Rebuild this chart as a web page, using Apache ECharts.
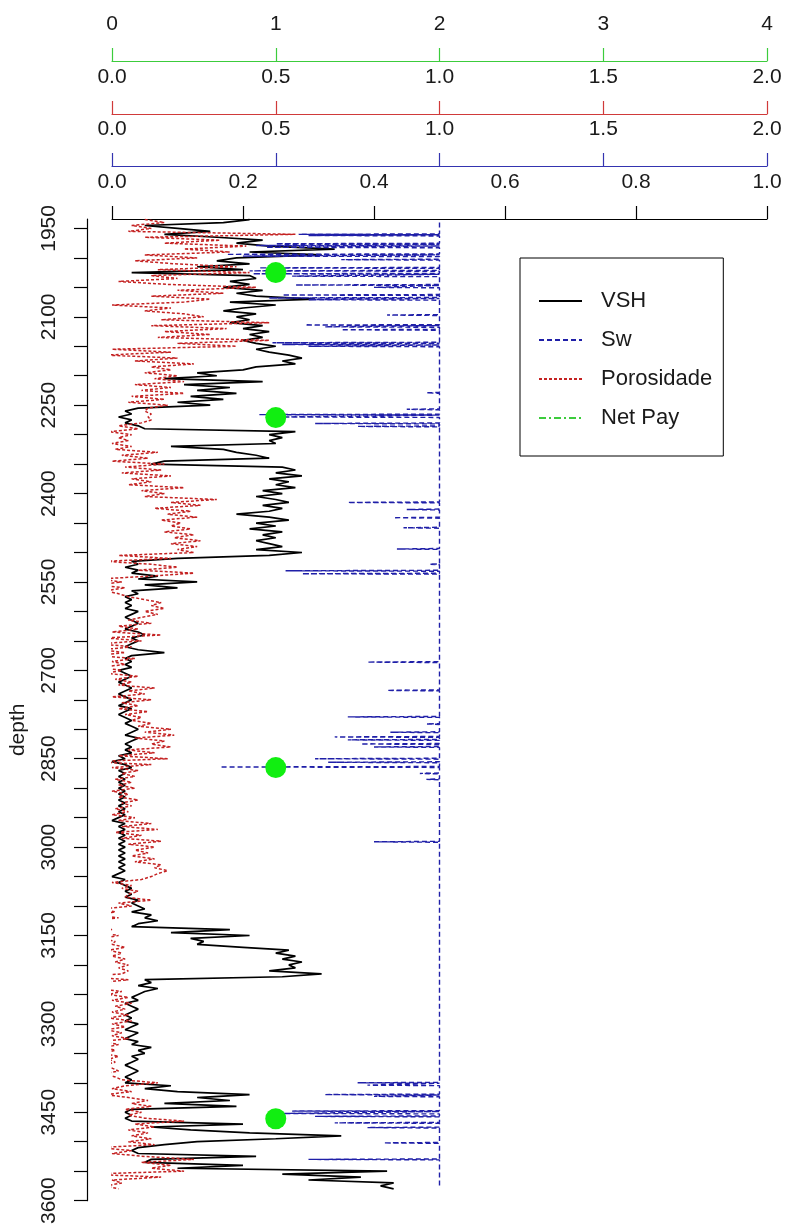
<!DOCTYPE html>
<html><head><meta charset="utf-8">
<script src="https://cdn.jsdelivr.net/npm/echarts@6/dist/echarts.min.js"></script>
<style>html,body{margin:0;padding:0;background:#fff}#c{width:787px;height:1227px}</style>
</head><body><div id="c"></div>
<script>
// depth sampling of the VSH / porosity logs
const depthStart = 1935, depthStep = 5;
// VSH (fraction, black axis 0-1), one value every 5 depth units from 1935
const vsh = [
 0.21,0.17,0.05,0.10,0.15,0.08,0.16,0.23,0.19,0.24,
 0.34,0.21,0.32,0.19,0.16,0.21,0.13,0.20,0.03,0.21,
 0.22,0.18,0.21,0.17,0.23,0.19,0.22,0.31,0.18,0.25,
 0.20,0.17,0.22,0.19,0.21,0.18,0.23,0.20,0.24,0.21,
 0.23,0.20,0.22,0.25,0.22,0.24,0.27,0.29,0.26,0.28,
 0.22,0.20,0.13,0.16,0.08,0.23,0.11,0.18,0.13,0.19,
 0.12,0.17,0.10,0.15,0.04,0.02,0.03,0.01,0.03,0.02,
 0.04,0.05,0.28,0.24,0.26,0.24,0.25,0.09,0.17,0.19,
 0.22,0.24,0.08,0.06,0.26,0.28,0.25,0.29,0.24,0.27,
 0.25,0.28,0.23,0.26,0.22,0.25,0.27,0.23,0.26,0.24,
 0.19,0.24,0.27,0.22,0.25,0.21,0.26,0.23,0.25,0.22,
 0.24,0.26,0.22,0.29,0.24,0.10,0.03,0.04,0.02,0.04,
 0.03,0.07,0.04,0.13,0.05,0.10,0.03,0.04,0.02,0.03,
 0.02,0.03,0.02,0.04,0.03,0.02,0.03,0.04,0.03,0.02,
 0.04,0.05,0.03,0.04,0.03,0.02,0.04,0.08,0.03,0.02,
 0.03,0.02,0.03,0.01,0.02,0.03,0.02,0.01,0.02,0.03,
 0.02,0.01,0.02,0.03,0.02,0.01,0.03,0.02,0.01,0.02,
 0.03,0.02,0.03,0.04,0.03,0.02,0.04,0.03,0.02,0.03,
 0.02,0.03,0.01,0.02,0.00,0.02,0.03,0.01,0.02,0.01,
 0.02,0.01,0.02,0.01,0.02,0.01,0.02,0.01,0.02,0.01,
 0.02,0.01,0.02,0.01,0.00,0.02,0.01,0.02,0.01,0.02,
 0.01,0.02,0.01,0.02,0.01,0.02,0.01,0.02,0.01,0.02,
 0.01,0.02,0.01,0.00,0.02,0.01,0.02,0.03,0.02,0.03,
 0.02,0.04,0.03,0.04,0.05,0.03,0.06,0.05,0.07,0.04,
 0.03,0.18,0.09,0.21,0.12,0.14,0.13,0.20,0.27,0.25,
 0.28,0.26,0.29,0.27,0.28,0.24,0.32,0.26,0.05,0.06,
 0.04,0.07,0.05,0.04,0.03,0.04,0.02,0.03,0.04,0.03,
 0.02,0.03,0.02,0.04,0.03,0.02,0.04,0.03,0.02,0.04,
 0.03,0.06,0.04,0.05,0.03,0.04,0.03,0.02,0.03,0.04,
 0.03,0.02,0.03,0.02,0.09,0.05,0.10,0.21,0.13,0.18,
 0.08,0.19,0.03,0.02,0.03,0.02,0.03,0.20,0.06,0.12,
 0.21,0.35,0.25,0.13,0.08,0.04,0.03,0.04,0.22,0.06,
 0.05,0.20,0.10,0.42,0.26,0.38,0.30,0.43,0.41,0.43
];
// Porosidade (red axis 0-2), same depth sampling
const porosidade = [
 0.10,0.16,0.06,0.12,0.05,0.56,0.10,0.33,0.16,0.41,
 0.22,0.36,0.10,0.26,0.07,0.19,0.38,0.14,0.42,0.12,
 0.20,0.02,0.17,0.44,0.20,0.34,0.12,0.30,0.22,0.00,
 0.18,0.10,0.22,0.28,0.15,0.48,0.12,0.35,0.16,0.30,
 0.14,0.48,0.20,0.38,0.00,0.18,-0.02,0.20,0.07,0.25,
 0.12,0.18,0.10,0.20,0.13,0.22,0.07,0.18,0.09,0.22,
 0.06,0.16,0.05,0.17,0.11,0.10,0.12,0.11,0.12,0.09,
 0.02,0.08,-0.01,0.06,0.02,0.05,0.00,0.06,0.01,0.14,
 0.03,0.11,0.00,0.16,0.04,0.15,0.03,0.18,0.06,0.12,
 0.05,0.22,0.09,0.16,0.10,0.32,0.18,0.27,0.13,0.24,
 0.17,0.26,0.15,0.21,0.18,0.24,0.16,0.25,0.19,0.27,
 0.18,0.26,0.20,0.25,0.02,0.18,-0.02,0.12,0.20,0.08,
 0.25,0.12,-0.04,0.03,-0.05,0.04,-0.02,0.02,0.05,0.10,
 0.15,0.12,0.16,0.10,0.14,0.09,0.05,0.12,0.02,0.08,
 0.00,0.15,-0.02,0.09,-0.04,0.06,-0.03,0.04,-0.05,0.07,
 0.00,0.04,-0.04,0.03,-0.02,0.08,0.01,0.06,0.02,0.13,
 0.05,0.10,0.00,0.12,0.03,0.08,0.02,0.11,0.04,0.09,
 0.06,0.12,0.08,0.18,0.10,0.19,0.07,0.16,0.12,0.18,
 0.05,0.13,0.02,0.17,-0.06,0.12,0.00,0.08,0.03,0.07,
 0.01,0.06,0.02,0.07,0.00,0.05,0.02,0.08,0.03,0.06,
 0.01,0.05,0.00,0.07,0.02,0.12,0.03,0.14,0.01,0.09,
 0.03,0.15,0.05,0.13,0.07,0.11,0.06,0.13,0.07,0.15,
 0.13,0.17,0.14,0.12,0.09,0.00,0.06,0.03,0.08,0.05,
 0.04,0.12,0.02,0.06,-0.03,0.01,-0.05,0.02,-0.08,-0.02,
 -0.06,0.00,-0.04,0.02,-0.03,0.01,0.00,0.04,-0.01,0.03,
 0.00,0.04,0.01,0.05,0.02,0.05,0.03,-0.08,0.05,-0.04,
 -0.02,-0.05,0.03,-0.01,0.05,0.00,0.06,0.01,0.04,0.00,
 0.05,-0.01,0.06,0.00,0.04,-0.02,0.03,0.00,0.05,-0.03,
 0.02,-0.02,0.01,-0.03,0.02,-0.01,0.01,-0.03,0.00,0.02,
 -0.03,0.01,0.03,0.14,0.04,0.00,0.06,-0.02,0.05,0.11,
 0.06,0.12,0.04,0.09,0.05,0.10,0.22,0.07,0.13,0.05,
 0.11,0.06,0.12,0.05,0.13,-0.04,0.06,0.00,0.10,0.25,
 0.09,0.18,0.12,0.22,-0.08,0.15,0.00,0.03,-0.02,0.02
];
// Sw (blue axis 0-2): depth / value readings
const swDepth = [1940,
 1959.2,1960,1960.8, 1961.2,1962,1962.8,
 1975.2,1976,1976.8, 1978.2,1979,1979.8, 1981.2,1982,1982.8,
 1993.2,1994,1994.8, 1996.2,1997,1997.8, 2002.2,2003,2003.8,
 2016.2,2017,2017.8, 2021.2,2022,2022.8, 2026.2,2027,2027.8, 2030.2,2031,2031.8,
 2045.2,2046,2046.8, 2049.2,2050,2050.8,
 2062.2,2063,2063.8, 2067.2,2068,2068.8, 2070.2,2071,2071.8,
 2096.2,2097,2097.8,
 2113.2,2114,2114.8, 2116.2,2117,2117.8, 2121.2,2122,2122.8,
 2143.2,2144,2144.8, 2146.2,2147,2147.8, 2149.2,2150,2150.8,
 2228.2,2229,2229.8, 2256.2,2257,2257.8,
 2265.2,2266,2266.8, 2269.2,2270,2270.8,
 2280.2,2281,2281.8, 2285.2,2286,2286.8,
 2414.2,2415,2415.8, 2426.2,2427,2427.8, 2440.2,2441,2441.8, 2457.2,2458,2458.8,
 2493.2,2494,2494.8, 2519.2,2520,2520.8,
 2530.2,2531,2531.8, 2535.2,2536,2536.8,
 2685.2,2686,2686.8, 2733.2,2734,2734.8,
 2778.2,2779,2779.8, 2790.2,2791,2791.8, 2804.2,2805,2805.8,
 2812.2,2813,2813.8, 2817.2,2818,2818.8, 2824.2,2825,2825.8, 2829.2,2830,2830.8,
 2849.2,2850,2850.8, 2855.2,2856,2856.8, 2863.2,2864,2864.8,
 2874.2,2875,2875.8, 2884.2,2885,2885.8,
 2990.2,2991,2991.8,
 3399.2,3400,3400.8, 3403.2,3404,3404.8,
 3419.2,3420,3420.8, 3422.2,3423,3423.8,
 3447.2,3448,3448.8, 3451.2,3452,3452.8, 3456.2,3457,3457.8,
 3467.2,3468,3468.8, 3475.2,3476,3476.8,
 3501.2,3502,3502.8, 3529.2,3530,3530.8,
 3576];
const swValue = [1,
 1,0.57,1, 1,0.60,1,
 1,0.50,1, 1,0.44,1, 1,0.47,1,
 1,0.35,1, 1,0.40,1, 1,0.70,1,
 1,0.45,1, 1,0.42,1, 1,0.43,1, 1,0.55,1,
 1,0.56,1, 1,0.80,1,
 1,0.52,1, 1,0.48,1, 1,0.60,1,
 1,0.84,1,
 1,0.59,1, 1,0.65,1, 1,0.70,1,
 1,0.49,1, 1,0.52,1, 1,0.60,1,
 1,0.96,1, 1,0.90,1,
 1,0.45,1, 1,0.52,1,
 1,0.62,1, 1,0.75,1,
 1,0.72,1, 1,0.90,1, 1,0.86,1, 1,0.89,1,
 1,0.87,1, 1,0.97,1,
 1,0.53,1, 1,0.58,1,
 1,0.78,1, 1,0.84,1,
 1,0.72,1, 1,0.96,1, 1,0.85,1,
 1,0.68,1, 1,0.72,1, 1,0.76,1, 1,0.80,1,
 1,0.62,1, 1,0.66,1, 1,0.33,1,
 1,0.94,1, 1,0.96,1,
 1,0.80,1,
 1,0.75,1, 1,0.78,1,
 1,0.65,1, 1,0.80,1,
 1,0.55,1, 1,0.52,1, 1,0.62,1,
 1,0.68,1, 1,0.78,1,
 1,0.83,1, 1,0.60,1,
 1];
// Net Pay flags (green axis 0-4)
const netPayDepth = [2025, 2271, 2865, 3461];
const netPayValue = [1, 1, 1, 1];
// depth axis ticks / labels
const depthTicks = [1950,2000,2050,2100,2150,2200,2250,2300,2350,2400,2450,2500,2550,2600,2650,2700,2750,2800,2850,2900,2950,3000,3050,3100,3150,3200,3250,3300,3350,3400,3450,3500,3550,3600];
const depthLabels = [1950,2100,2250,2400,2550,2700,2850,3000,3150,3300,3450,3600];
const seriesNames = ['VSH', 'Sw', 'Porosidade', 'Net Pay'];

const FONT = "'Liberation Sans', Arial, sans-serif";
const TXT = '#1a1a1a';
const depths = vsh.map((_, i) => depthStart + i * depthStep);

function topAxis(offset, max, interval, color, dec) {
  return {
    type: 'value', gridIndex: 0, position: 'top', offset: offset,
    min: 0, max: max, interval: interval,
    axisLine: { show: true, onZero: false, lineStyle: { color: color, width: 1.2 } },
    axisTick: { show: true, length: 13, inside: false, lineStyle: { color: color, width: 1.2 } },
    axisLabel: { show: true, margin: 26, fontSize: 21, color: TXT, fontFamily: FONT,
      showMinLabel: true, showMaxLabel: true,
      formatter: v => dec ? v.toFixed(1) : String(v) },
    splitLine: { show: false }
  };
}

const chart = echarts.init(document.getElementById('c'), null, { renderer: 'canvas' });
chart.setOption({
  animation: false,
  backgroundColor: '#fff',
  textStyle: { fontFamily: FONT },
  grid: { left: 108, top: 219, width: 659, height: 984, containLabel: false },
  xAxis: [
    topAxis(0, 1, 0.2, '#000', true),
    topAxis(53, 2, 0.5, '#3434b0', true),
    topAxis(105, 2, 0.5, '#d03a3a', true),
    topAxis(158, 4, 1, '#3ccc3c', false)
  ],
  yAxis: {
    type: 'value', inverse: true, min: 1934, max: 3600, position: 'left', offset: 25,
    axisLine: { show: true, onZero: false, lineStyle: { color: '#000', width: 1.2 } },
    axisTick: { show: true, length: 13, customValues: depthTicks, lineStyle: { color: '#000', width: 1.2 } },
    axisLabel: { show: true, rotate: 90, margin: 27, fontSize: 21, color: TXT, fontFamily: FONT,
      customValues: depthLabels, formatter: v => String(v) },
    splitLine: { show: false },
    name: 'depth', nameLocation: 'middle', nameGap: 58, nameRotate: 90,
    nameTextStyle: { fontSize: 21, color: TXT, fontFamily: FONT, padding: [0, 40, 0, 0] }
  },
  legend: {
    orient: 'vertical', left: 520, top: 258,
    padding: [32, 11, 27, 18],
    itemGap: 17, itemWidth: 43, itemHeight: 14,
    borderColor: '#000', borderWidth: 1,
    selectedMode: false,
    textStyle: { fontSize: 22, color: TXT, fontFamily: FONT, padding: [0, 0, 0, 14] },
    data: [
      { name: seriesNames[0], itemStyle: { opacity: 0 } },
      { name: seriesNames[1], itemStyle: { opacity: 0 } },
      { name: seriesNames[2], itemStyle: { opacity: 0 } },
      { name: seriesNames[3], itemStyle: { opacity: 0 }, lineStyle: { opacity: 1 } }
    ]
  },
  series: [
    {
      name: seriesNames[0], type: 'line', xAxisIndex: 0, yAxisIndex: 0,
      data: depths.map((d, i) => [vsh[i], d]),
      symbol: 'none', clip: false,
      lineStyle: { color: '#000', width: 1.7 }, itemStyle: { color: '#000' }
    },
    {
      name: seriesNames[1], type: 'line', xAxisIndex: 1, yAxisIndex: 0,
      data: swDepth.map((d, i) => [swValue[i], d]),
      symbol: 'none', clip: false,
      lineStyle: { color: '#1f1fa8', width: 1.4, type: [5, 3] }, itemStyle: { color: '#1f1fa8' }
    },
    {
      name: seriesNames[2], type: 'line', xAxisIndex: 2, yAxisIndex: 0,
      data: depths.map((d, i) => [porosidade[i], d]),
      symbol: 'none', clip: false,
      lineStyle: { color: '#c42222', width: 1.5, type: [3, 2] }, itemStyle: { color: '#c42222' }
    },
    {
      name: seriesNames[3], type: 'line', xAxisIndex: 3, yAxisIndex: 0,
      data: netPayDepth.map((d, i) => [netPayValue[i], d]),
      symbol: 'circle', symbolSize: 21, showSymbol: true, clip: false,
      itemStyle: { color: '#11ee11' },
      lineStyle: { color: '#3ccc3c', width: 1.2, type: [7, 3, 2, 3], opacity: 0 }
    }
  ]
});
</script></body></html>
